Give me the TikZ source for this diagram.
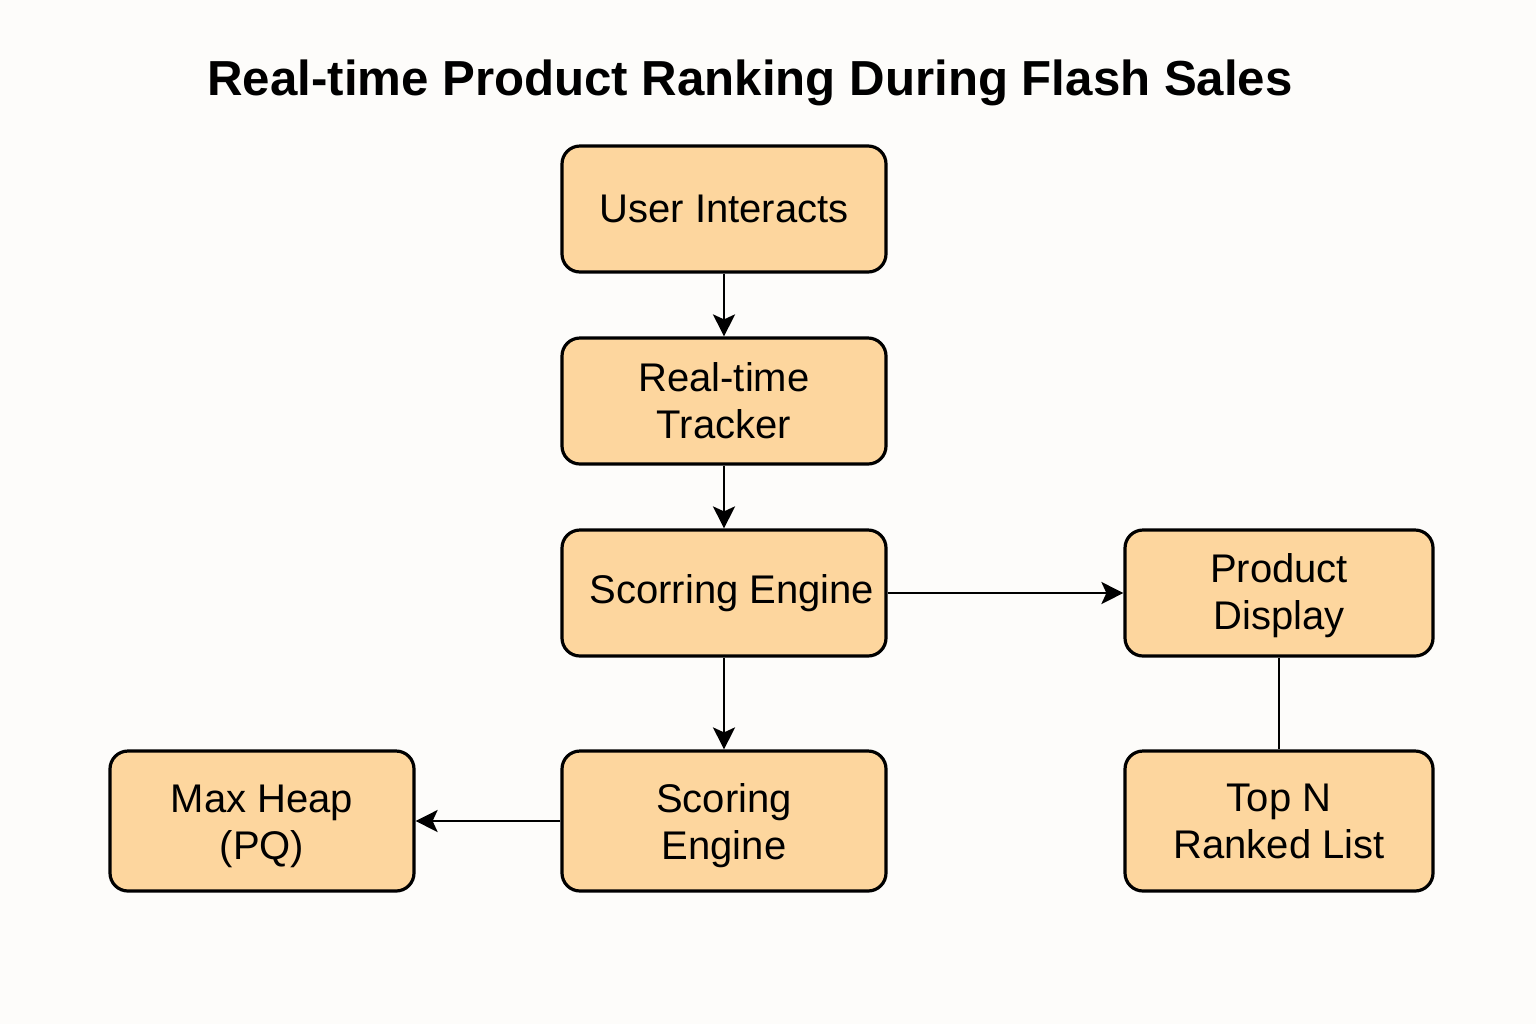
\documentclass[tikz,border=0pt]{standalone}
\usepackage{fontspec}
\setmainfont{Liberation Sans}
\usetikzlibrary{arrows.meta}
\definecolor{boxfill}{HTML}{FDD69E}
\definecolor{bgcol}{HTML}{FDFCFA}
\begin{document}
\begin{tikzpicture}[x=0.5pt,y=-0.5pt,
  flowbox/.style={draw=black, line width=1.6pt, fill=boxfill, rounded corners=9pt,
    align=center, inner sep=2pt, font=\fontsize{20}{23.5}\selectfont},
  conn/.style={line width=1.2pt, draw=black},
  arr/.style={conn, -{Stealth[length=11pt,width=11pt,inset=2.5pt]}}]
  \fill[bgcol] (0,0) rectangle (1536,1024);
  \useasboundingbox (0,0) rectangle (1536,1024);
  \node[font=\fontsize{24.6}{28}\selectfont\bfseries] (title) at (750,83) {Real-time Product Ranking During Flash Sales};
  \node[flowbox, minimum width=162pt, minimum height=63pt] (user) at (724,209) {User Interacts};
  \node[flowbox, minimum width=162pt, minimum height=63pt] (tracker) at (724,401) {Real-time\\Tracker};
  \node[flowbox, minimum width=162pt, minimum height=63pt] (scorring) at (724,593) {\hspace*{8pt}Scorring Engine};
  \node[flowbox, minimum width=154pt, minimum height=63pt] (display) at (1279,593) {\rule{0pt}{17.5pt}Product\\Display};
  \node[flowbox, minimum width=162pt, minimum height=70pt] (scoring) at (724,821) {\rule{0pt}{19pt}Scoring\\Engine};
  \node[flowbox, minimum width=152pt, minimum height=70pt] (heap) at (262,821) {\rule{0pt}{19pt}Max Heap\\(PQ)};
  \node[flowbox, minimum width=154pt, minimum height=70pt] (topn) at (1279,821) {Top N\\Ranked List};
  \draw[arr] (user) -- (tracker);
  \draw[arr] (tracker) -- (scorring);
  \draw[arr] (scorring) -- (display);
  \draw[arr] (scorring) -- (scoring);
  \draw[arr] (scoring) -- (heap);
  \draw[conn] (display) -- (topn);
\end{tikzpicture}
\end{document}
